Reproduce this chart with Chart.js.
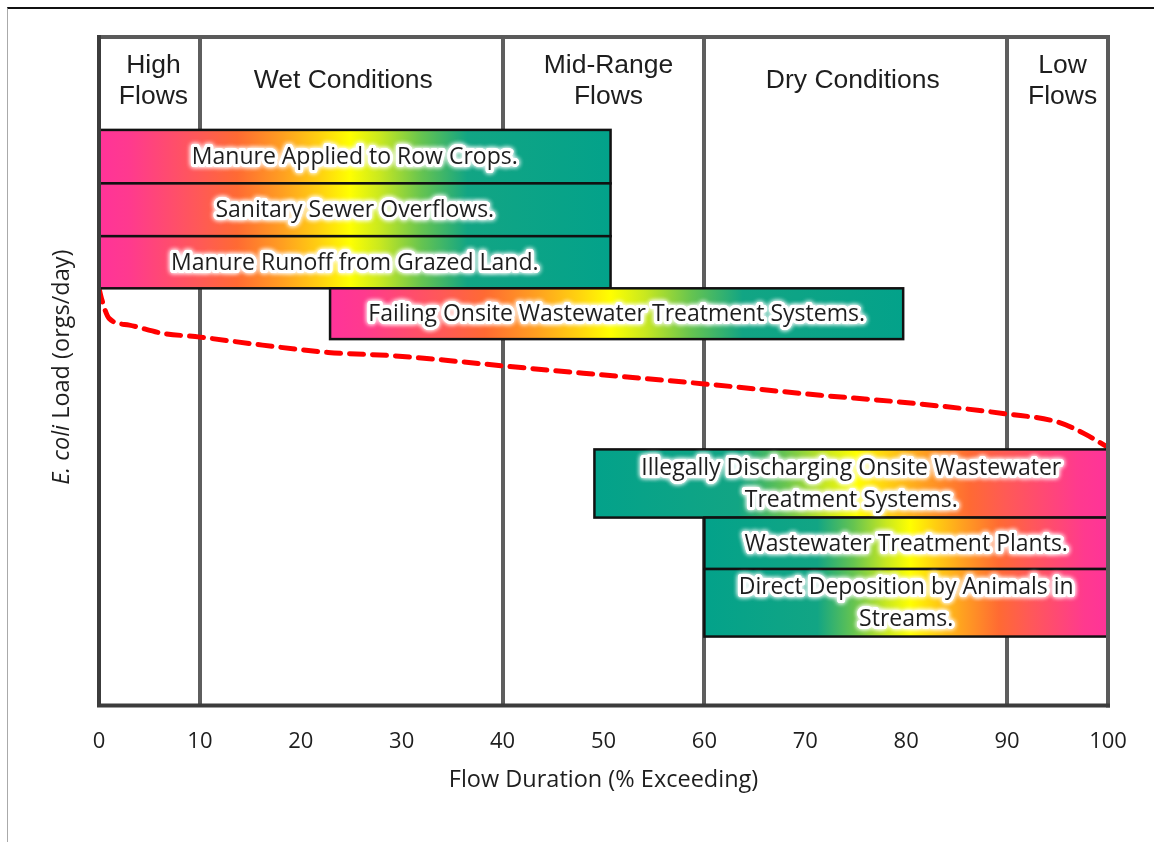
<!DOCTYPE html>
<html>
<head>
<meta charset="utf-8">
<script src="https://cdn.jsdelivr.net/npm/chart.js@4.4.0/dist/chart.umd.min.js"></script>
<style>
  html, body { margin: 0; padding: 0; background: #fff; }
  #wrap { position: relative; width: 1154px; height: 842px; }
  #wrap canvas { position: absolute; left: 0; top: 0; }
  #frame { position: absolute; left: 7px; top: 7px; right: 0; bottom: 0;
           border-top: 2px solid #111; border-left: 1px solid #aaa; pointer-events: none; }
</style>
</head>
<body>
<div id="wrap">
  <canvas id="chart-ldc" width="1154" height="842"></canvas>
  <div id="frame"></div>
</div>
<script>
// Flow regimes along the x axis
const zoneBounds = [0, 10, 40, 60, 90, 100];
const zoneLabels = [['High', 'Flows'], ['Wet Conditions'], ['Mid-Range', 'Flows'], ['Dry Conditions'], ['Low', 'Flows']];

// Potential sources (floating boxes): flow range and position on the load axis
const sourceLabels = [
  ['Manure Applied to Row Crops.'],
  ['Sanitary Sewer Overflows.'],
  ['Manure Runoff from Grazed Land.'],
  ['Failing Onsite Wastewater Treatment Systems.'],
  ['Illegally Discharging Onsite Wastewater', 'Treatment Systems.'],
  ['Wastewater Treatment Plants.'],
  ['Direct Deposition by Animals in', 'Streams.']
];
const sourceFlowStart = [0, 0, 0, 22.9, 49.1, 60, 60];
const sourceFlowEnd = [50.7, 50.7, 50.7, 79.7, 100, 100, 100];
const sourceLoadTop = [86.1, 78.1, 70.2, 62.4, 38.3, 28.1, 20.4];
const sourceLoadBottom = [78.1, 70.2, 62.4, 54.8, 28.1, 20.4, 10.3];
const sourceRegime = ['wet', 'wet', 'wet', 'wet', 'dry', 'dry', 'dry'];

// Load duration curve (dashed red)
const curveFlow = [0, 0.3, 1.0, 3.0, 6.2, 10, 16.2, 22.7, 29.3, 36, 40, 48, 60, 71.5, 79.3, 90, 95, 97.6, 100];
const curveLoad = [62.4, 60.6, 57.9, 56.9, 55.7, 55.1, 53.9, 52.8, 52.3, 51.4, 50.8, 49.7, 48.1, 46.4, 45.4, 43.6, 42.4, 40.7, 38.6];

// pink -> teal ramp used to fill the boxes
const RAMP = [
  [0.00, '#ff3399'],
  [0.06, '#ff3a8e'],
  [0.20, '#ff5a55'],
  [0.27, '#ff6a33'],
  [0.36, '#ffa020'],
  [0.43, '#ffd010'],
  [0.49, '#ffff00'],
  [0.55, '#c8e820'],
  [0.63, '#66c450'],
  [0.72, '#12a584'],
  [1.00, '#03a28a']
];
const DIVIDERS = zoneBounds.slice(1, -1);
const TEXT = '#1e1e1e';
// the headings in the original are hand placed, not exactly centred
const zoneNudge = [4, -8, 5, -3, 5];

const ldcDecor = {
  id: 'ldcDecor',
  afterDatasetsDraw(chart) {
    const { ctx, chartArea: area, scales: { x, y } } = chart;

    // source boxes
    sourceLabels.forEach((lines, i) => {
      const left = x.getPixelForValue(sourceFlowStart[i]);
      const right = x.getPixelForValue(sourceFlowEnd[i]);
      const top = y.getPixelForValue(sourceLoadTop[i]);
      const bottom = y.getPixelForValue(sourceLoadBottom[i]);
      const g = sourceRegime[i] === 'wet'
        ? ctx.createLinearGradient(left, 0, right, 0)
        : ctx.createLinearGradient(right, 0, left, 0);
      RAMP.forEach(([p, c]) => g.addColorStop(p, c));

      ctx.save();
      ctx.fillStyle = g;
      ctx.fillRect(left, top, right - left, bottom - top);
      ctx.lineWidth = 2.5;
      ctx.strokeStyle = '#111';
      ctx.strokeRect(left, top, right - left, bottom - top);

      // text with a white glow
      ctx.font = `23px 'Open Sans', sans-serif`;
      ctx.textAlign = 'center';
      ctx.textBaseline = 'middle';
      ctx.lineJoin = 'round';
      const cx = (left + right) / 2;
      const cy = (top + bottom) / 2;
      const lh = 32;
      lines.forEach((t, k) => {
        const ty = cy + (k - (lines.length - 1) / 2) * lh + 1;
        ctx.shadowColor = '#fff';
        ctx.shadowBlur = 5;
        ctx.strokeStyle = '#fff';
        ctx.lineWidth = 6;
        ctx.strokeText(t, cx, ty);
        ctx.strokeText(t, cx, ty);
        ctx.shadowBlur = 0;
        ctx.fillStyle = TEXT;
        ctx.fillText(t, cx, ty);
      });
      ctx.restore();
    });

    // plot frame
    ctx.save();
    ctx.lineWidth = 4;
    ctx.lineCap = 'square';
    ctx.strokeStyle = '#5a5a5a';
    ctx.beginPath();
    ctx.moveTo(area.left, area.top);
    ctx.lineTo(area.right, area.top);
    ctx.lineTo(area.right, area.bottom);
    ctx.stroke();
    ctx.strokeStyle = '#3c3c3c';
    ctx.beginPath();
    ctx.moveTo(area.left, area.top);
    ctx.lineTo(area.left, area.bottom);
    ctx.lineTo(area.right, area.bottom);
    ctx.stroke();
    ctx.restore();
  },
  afterDraw(chart) {
    const { ctx, chartArea: area, scales: { x } } = chart;
    ctx.save();
    ctx.fillStyle = TEXT;
    ctx.textAlign = 'center';
    ctx.textBaseline = 'middle';

    // zone headings
    ctx.font = `26.5px 'Liberation Sans', Arial, sans-serif`;
    zoneLabels.forEach((lines, i) => {
      const cx = (x.getPixelForValue(zoneBounds[i]) + x.getPixelForValue(zoneBounds[i + 1])) / 2 + zoneNudge[i];
      const cy = area.top + 44;
      lines.forEach((t, k) => {
        ctx.fillText(t, cx, cy + (k - (lines.length - 1) / 2) * 31);
      });
    });

    // y axis title: "E. coli" in italics
    const italic = `italic 23.5px 'Open Sans', sans-serif`;
    const normal = `23.5px 'Open Sans', sans-serif`;
    const a = 'E. coli', b = ' Load (orgs/day)';
    ctx.font = italic; const wa = ctx.measureText(a).width;
    ctx.font = normal; const wb = ctx.measureText(b).width;
    ctx.translate(area.left - 37, (area.top + area.bottom) / 2 - 4);
    ctx.rotate(-Math.PI / 2);
    ctx.textAlign = 'left';
    const start = -(wa + wb) / 2;
    ctx.font = italic; ctx.fillText(a, start, 0);
    ctx.font = normal; ctx.fillText(b, start + wa, 0);
    ctx.restore();
  }
};

const chart = new Chart(document.getElementById('chart-ldc').getContext('2d'), {
  type: 'line',
  data: {
    datasets: [{
      label: 'Load duration curve',
      data: curveFlow.map((f, i) => ({ x: f, y: curveLoad[i] })),
      borderColor: '#ff0000',
      borderWidth: 5,
      borderDash: [14, 9],
      borderCapStyle: 'round',
      pointRadius: 0,
      fill: false,
      cubicInterpolationMode: 'monotone'
    }]
  },
  options: {
    responsive: false,
    animation: false,
    layout: { padding: { left: 99, top: 37, right: 46, bottom: 44 } },
    plugins: { legend: { display: false }, tooltip: { enabled: false } },
    scales: {
      x: {
        type: 'linear',
        min: 0,
        max: 100,
        ticks: {
          stepSize: 10,
          padding: 23,
          color: TEXT,
          font: { family: "'Open Sans', sans-serif", size: 22 }
        },
        grid: {
          drawTicks: false,
          lineWidth: 4,
          color: (c) => DIVIDERS.includes(c.tick && c.tick.value) ? '#5e5e5e' : 'transparent'
        },
        border: { display: false },
        title: {
          display: true,
          text: 'Flow Duration (% Exceeding)',
          color: TEXT,
          padding: { top: -12, bottom: 4 },
          font: { family: "'Open Sans', sans-serif", size: 23.5 }
        }
      },
      y: {
        type: 'linear',
        display: false,
        min: 0,
        max: 100
      }
    }
  },
  plugins: [ldcDecor]
});
</script>
</body>
</html>
